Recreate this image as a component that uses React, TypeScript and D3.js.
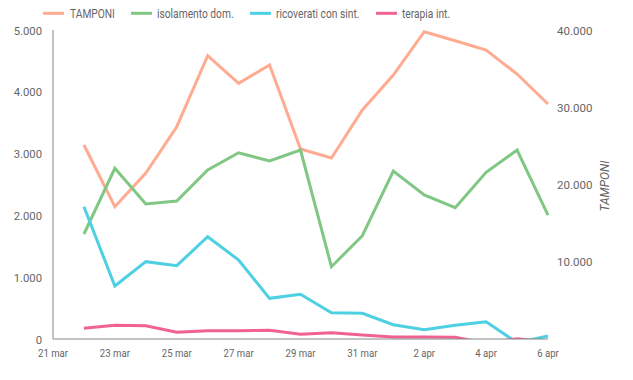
import React from "react";
import * as d3 from "d3";

const dates = ["2020-03-22","2020-03-23","2020-03-24","2020-03-25","2020-03-26","2020-03-27","2020-03-28","2020-03-29","2020-03-30","2020-03-31","2020-04-01","2020-04-02","2020-04-03","2020-04-04","2020-04-05","2020-04-06"];
const tamponi = [25110,17130,21490,27480,36670,33100,35470,24600,23430,29640,34170,39780,38610,37410,34300,30420];
const isolamento = [1699,2762,2184,2233,2734,3014,2880,3058,1170,1671,2718,2330,2125,2697,3058,2006];
const ricoverati = [2140,858,1251,1186,1655,1278,658,723,426,416,231,150,222,280,-60,49];
const terapia = [173,222,215,108,134,134,141,76,102,65,32,32,30,-70,5,-50];

const xTickDates = ["2020-03-21","2020-03-23","2020-03-25","2020-03-27","2020-03-29","2020-03-31","2020-04-02","2020-04-04","2020-04-06"];
const xTickLabels = ["21 mar","23 mar","25 mar","27 mar","29 mar","31 mar","2 apr","4 apr","6 apr"];
const leftTicks = [0,1000,2000,3000,4000,5000];
const rightTicks = [10000,20000,30000,40000];

const seriesNames = ["TAMPONI","isolamento dom.","ricoverati con sint.","terapia int."];
const seriesColors = ["#ffab91","#81c784","#4dd0e1","#f06292"];

const W = 633, H = 380;
const L = 53, R = 548, T = 30, B = 339;

const fmt = (v: number) => v === 0 ? "0" : d3.format(",")(v).replace(/,/g, ".");

function SqText(props: { x: number; y: number; size: number; anchor?: string; sx?: number; children: React.ReactNode }) {
  const { x, y, size, anchor = "start", sx = 0.83, children } = props;
  return (
    <text transform={`translate(${x},${y}) scale(${sx},1)`} fontSize={size} fill="#666" textAnchor={anchor as any}>
      {children}
    </text>
  );
}

export default function App() {
  const parse = d3.utcParse("%Y-%m-%d");
  const x = d3.scaleUtc().domain([parse("2020-03-21")!, parse("2020-04-06")!]).range([L, R]);
  const yL = d3.scaleLinear().domain([0, 5000]).range([B, T]);
  const yR = d3.scaleLinear().domain([0, 40000]).range([B, T]);
  const pts = dates.map(d => parse(d)!);

  const mk = (vals: number[], y: d3.ScaleLinear<number, number>) =>
    d3.line<number>().x((_, i) => x(pts[i])).y(v => y(v))(vals) || "";

  const paths = [
    { d: mk(tamponi, yR), c: seriesColors[0] },
    { d: mk(isolamento, yL), c: seriesColors[1] },
    { d: mk(ricoverati, yL), c: seriesColors[2] },
    { d: mk(terapia, yL), c: seriesColors[3] },
  ];

  const swatchX = [43, 131, 250, 376];
  const textX = [70, 157, 276, 402];
  const font = "Roboto, 'Noto Sans', sans-serif";

  return (
    <svg width={W} height={H} style={{ position: "absolute", left: 0, top: 0, fontFamily: font }}>
      <defs>
        <clipPath id="plot">
          <rect x={L} y={0} width={R - L + 10} height={B} />
        </clipPath>
      </defs>
      {seriesNames.map((n, i) => (
        <g key={n}>
          <line x1={swatchX[i]} x2={swatchX[i] + 21} y1={13.3} y2={13.3} stroke={seriesColors[i]} strokeWidth={3} />
          <SqText x={textX[i]} y={17.7} size={12.2} sx={0.84}>{n}</SqText>
        </g>
      ))}
      {leftTicks.map(t => (
        <text key={t} x={42} y={yL(t) + 4.5} fontSize={11.3} fill="#666" textAnchor="end">{fmt(t)}</text>
      ))}
      {rightTicks.map(t => (
        <text key={t} x={557} y={yR(t) + 4.5} fontSize={11.5} fill="#666">{fmt(t)}</text>
      ))}
      <text transform={`translate(609,186) rotate(-90)`} fontSize={12} fill="#666" fontStyle="italic" textAnchor="middle">TAMPONI</text>
      {xTickDates.map((d, i) => (
        <SqText key={d} x={x(parse(d)!)} y={356.7} size={11.7} anchor="middle" sx={0.82}>{xTickLabels[i]}</SqText>
      ))}
      <g clipPath="url(#plot)">
        {paths.map((p, i) => (
          <path key={i} d={p.d} fill="none" stroke={p.c} strokeWidth={3} strokeLinejoin="miter" />
        ))}
      </g>
      <line x1={L} x2={L} y1={T} y2={B} stroke="#888" strokeWidth={1} />
      <line x1={L} x2={R} y1={B} y2={B} stroke="#888" strokeWidth={1} />
    </svg>
  );
}
